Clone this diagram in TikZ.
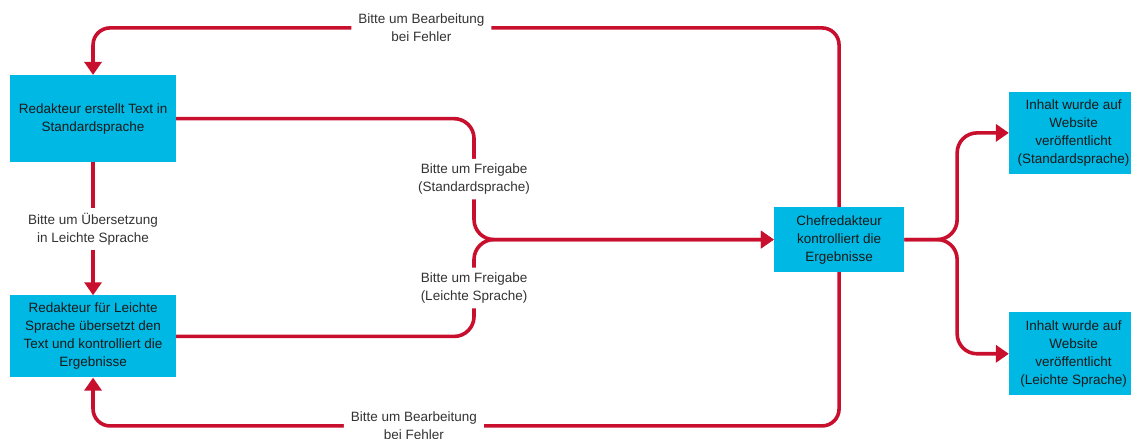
\documentclass[tikz,border=0pt]{standalone}
\usepackage{fontspec}
\setmainfont{Liberation Sans}
\usepackage{tikz}
\usetikzlibrary{arrows.meta,positioning}

\definecolor{flowred}{RGB}{200,16,46}
\definecolor{boxblue}{RGB}{0,184,228}

\begin{document}
\begin{tikzpicture}[
  node distance=4.67cm,
  txt/.style={font=\fontsize{13.5pt}{18pt}\selectfont, align=center},
  box/.style={txt, fill=boxblue, text=black!90, inner sep=0pt},
  flow/.style={-{Triangle[width=17pt,length=13pt]}, line width=3.6pt, draw=flowred},
  lbl/.style={txt, fill=white, text=black!80, inner xsep=7pt, inner ysep=5pt},
]
  \useasboundingbox (0,0) rectangle (39.75,-15.40);

  % Editors
  \node[box, minimum width=5.83cm, minimum height=3.06cm] (redakteur) at (3.27,-4.17)
    {Redakteur erstellt Text in\\Standardsprache};
  \node[box, minimum width=5.83cm, minimum height=2.88cm, below=of redakteur] (leicht)
    {Redakteur für Leichte\\Sprache übersetzt den\\Text und kontrolliert die\\Ergebnisse};

  % Chief editor
  \node[box, minimum width=4.57cm, minimum height=2.28cm] (chef) at (29.49,-8.42)
    {Chefredakteur\\kontrolliert die\\Ergebnisse};

  % Published
  \node[box, minimum width=4.53cm, minimum height=2.88cm] (verstd) at (37.73,-4.67)
    {Inhalt wurde auf\\Website\\veröffentlicht\\(Standardsprache)};
  \node[box, minimum width=4.53cm, minimum height=2.92cm, below=4.85cm of verstd] (verleicht)
    {Inhalt wurde auf\\Website\\veröffentlicht\\(Leichte Sprache)};

  % Routing points
  \coordinate (top) at (0,-0.98);
  \coordinate (bottom) at (0,-14.97);
  \coordinate (merge) at (16.66,0);
  \coordinate (fork) at (33.64,0);

  % Translation
  \draw[flow] (redakteur) -- node[lbl] {Bitte um Übersetzung\\in Leichte Sprache} (leicht);

  % Approval requests
  \draw[flow, rounded corners=0.7cm] (redakteur.east) -|
    node[lbl, pos=0.75] {Bitte um Freigabe\\(Standardsprache)} (merge |- chef.west) -- (chef.west);
  \draw[flow, rounded corners=0.7cm] (leicht.east) -|
    node[lbl, pos=0.75] {Bitte um Freigabe\\(Leichte Sprache)} (merge |- chef.west) -- (chef.west);

  % Revision loops
  \draw[flow, rounded corners=0.6cm] (chef.north) -- (chef.north |- top)
    -- node[lbl, pos=0.56] {Bitte um Bearbeitung\\bei Fehler} (redakteur.north |- top)
    -- (redakteur.north);
  \draw[flow, rounded corners=0.6cm] (chef.south) -- (chef.south |- bottom)
    -- node[lbl, pos=0.57] {Bitte um Bearbeitung\\bei Fehler} (leicht.south |- bottom)
    -- (leicht.south);

  % Publication
  \draw[flow, rounded corners=0.7cm] (chef.east) -- (fork |- chef.east) |- (verstd.west);
  \draw[flow, rounded corners=0.7cm] (chef.east) -- (fork |- chef.east) |- (verleicht.west);
\end{tikzpicture}
\end{document}
